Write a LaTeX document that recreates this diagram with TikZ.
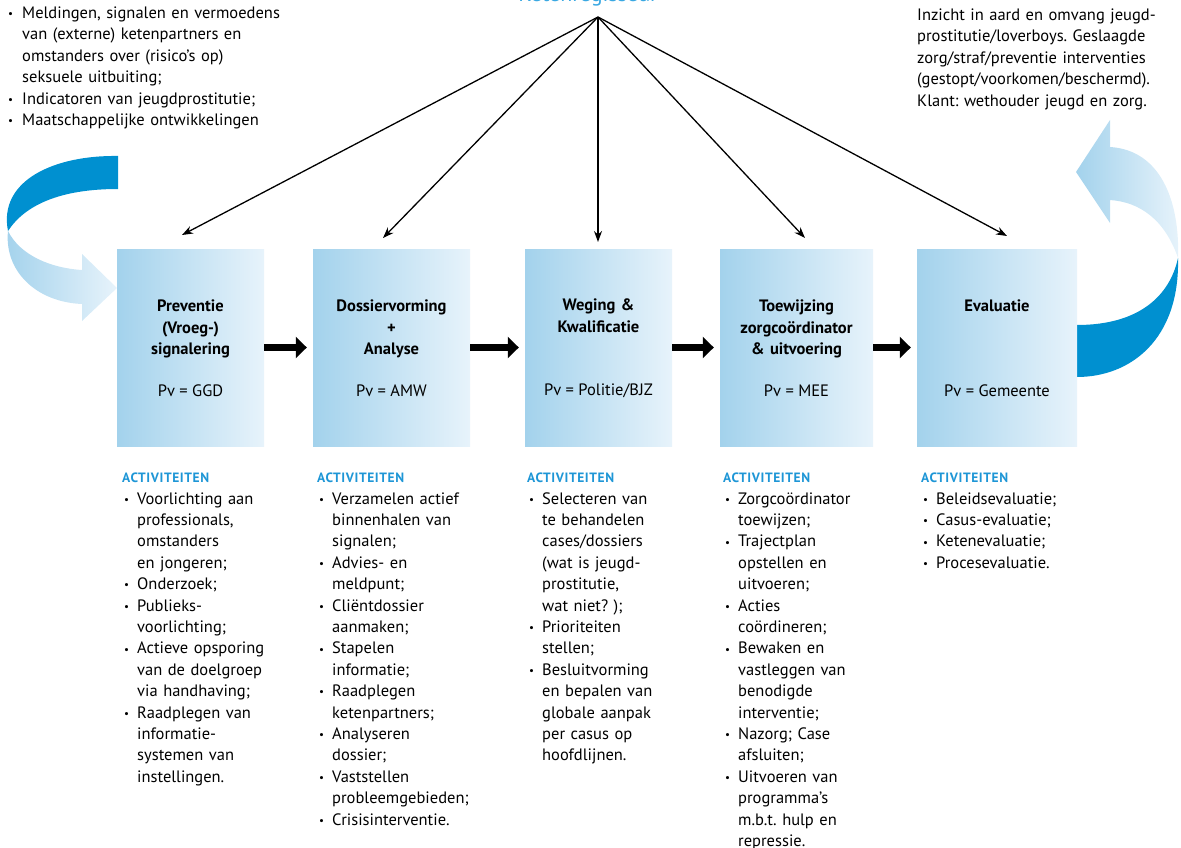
\documentclass[tikz,border=0pt]{standalone}
\usepackage{fontspec}
\setmainfont{PT Sans}
\usetikzlibrary{arrows.meta,calc}
\definecolor{rdark}{HTML}{0090D0}
\definecolor{rlight}{HTML}{A3D2EC}
\definecolor{rpale}{HTML}{E7F3FB}
\definecolor{headblue}{HTML}{1E96D6}
\definecolor{toplabelc}{HTML}{3AA8E2}
\frenchspacing
\newcommand{\bodyfont}{\fontsize{16.5}{21.4}\selectfont}
\newcommand{\smbullet}{\raisebox{0.8pt}{\fontsize{11}{11}\selectfont\textbullet}}
\newcommand{\fitm}{\hangindent=15pt\hangafter=1\noindent\makebox[15pt][l]{\hspace{2pt}\smbullet}}
\newcommand{\itm}{\par\fitm}
\newcommand{\ftopitm}{\hangindent=14pt\hangafter=1\noindent\makebox[14pt][l]{\smbullet}}
\newcommand{\topitm}{\par\ftopitm}
\tikzset{
  procbox/.style={rectangle, inner sep=0pt, left color=rlight, right color=rpale, draw=none},
  boxtitle/.style={inner sep=0pt, text width=150pt, align=center, font=\bodyfont\bfseries},
  pvtext/.style={inner sep=0pt, font=\bodyfont},
  acthead/.style={inner sep=0pt, text=headblue, font=\fontsize{13.5}{14}\selectfont\bfseries\addfontfeature{LetterSpace=4.5}},
  actlist/.style={inner sep=0pt, text width=190pt, font=\bodyfont},
  plaintext/.style={inner sep=0pt, font=\bodyfont},
  fanline/.style={line width=1.3pt, -{Stealth[length=11pt,width=8pt]}},
  flowarrow/.style={line width=7pt, -{Triangle[length=11pt,width=21pt]}, shorten >=6pt},
}
\begin{document}
\begin{tikzpicture}[x=1pt,y=-1pt]
\useasboundingbox (0,0) rectangle (1181,848);

% ribbons (behind boxes)
\shade[left color=rlight, right color=rpale]
  (8,231) .. controls (4,270) and (35,302) .. (82,304) -- (82,321) -- (117,288) -- (82,254) -- (82,270)
  .. controls (50,268) and (20,255) .. (8,231) -- cycle;
\fill[rdark]
  (8,231) .. controls (-2,180) and (55,155) .. (118,156) -- (118,189)
  .. controls (60,189) and (25,205) .. (8,231) -- cycle;
\shade[left color=rlight, right color=rpale]
  (1076,172) -- (1110,120) -- (1110,147) .. controls (1160,150) and (1180,200) .. (1178,258)
  .. controls (1165,220) and (1140,202) .. (1110,200) -- (1110,223) -- cycle;
\fill[rdark]
  (1178,258) .. controls (1180,340) and (1130,377) .. (1077,377) -- (1077,325)
  .. controls (1140,325) and (1170,295) .. (1178,258) -- cycle;

% boxes
\node[procbox, minimum width=147pt, minimum height=197pt] (b1) at (190.5,347.5) {};
\node[procbox, minimum width=157pt, minimum height=197pt] (b2) at (391.5,347.5) {};
\node[procbox, minimum width=147pt, minimum height=197pt] (b3) at (598.5,347.5) {};
\node[procbox, minimum width=153pt, minimum height=197pt] (b4) at (796.5,347.5) {};
\node[procbox, minimum width=160pt, minimum height=197pt] (b5) at (997,347.5) {};

\node[boxtitle, anchor=base] (t1) at ($(b1.north)+(0,63)$) {Preventie\\(Vroeg-)\\signalering};
\node[boxtitle, anchor=base] (t2) at ($(b2.north)+(0,63)$) {Dossiervorming\\+\\Analyse};
\node[boxtitle, anchor=base] (t3) at ($(b3.north)+(0,62)$) {Weging \&\\Kwalificatie};
\node[boxtitle, anchor=base] (t4) at ($(b4.north)+(0,63)$) {Toewijzing\\zorgcoördinator\\\& uitvoering};
\node[boxtitle, anchor=base] (t5) at ($(b5.north)+(0,63)$) {Evaluatie};

\node[pvtext, anchor=base] (p1) at ($(b1.north)+(0,148)$) {Pv = GGD};
\node[pvtext, anchor=base] (p2) at ($(b2.north)+(0,148)$) {Pv = AMW};
\node[pvtext, anchor=base] (p3) at ($(b3.north)+(0,147)$) {Pv = Politie/BJZ};
\node[pvtext, anchor=base] (p4) at ($(b4.north)+(0,148)$) {Pv = MEE};
\node[pvtext, anchor=base] (p5) at ($(b5.north)+(0,148)$) {Pv = Gemeente};

% flow arrows
\draw[flowarrow] (b1.east) -- (b2.west);
\draw[flowarrow] (b2.east) -- (b3.west);
\draw[flowarrow] (b3.east) -- (b4.west);
\draw[flowarrow] (b4.east) -- (b5.west);

% top label and fan
\node[inner sep=0pt, anchor=base, text=toplabelc, font=\fontsize{22}{24}\selectfont] (kr) at (588,2) {Ketenregisseur};
\coordinate (apex) at (598,17);
\coordinate (e1) at (182,235);
\coordinate (e2) at (383,238);
\coordinate (e3) at (598,242);
\coordinate (e4) at (805,238);
\coordinate (e5) at (1007,236);
\foreach \e in {e1,e2,e3,e4,e5} \draw[fanline] (apex) -- (\e);

% top texts
\node[plaintext, text width=300pt, anchor=base west] (inputs) at (8,18.5) {\ftopitm Meldingen, signalen en vermoedens\newline van (externe) ketenpartners en\newline omstanders over (risico’s op)\newline seksuele uitbuiting;\topitm Indicatoren van jeugdprostitutie;\topitm Maatschappelijke ontwikkelingen\par};
\node[plaintext, text width=270pt, anchor=base west] (outputs) at (917,20.5) {Inzicht in aard en omvang jeugd-\newline prostitutie/loverboys. Geslaagde\newline zorg/straf/preventie interventies\newline (gestopt/voorkomen/beschermd).\newline Klant: wethouder jeugd en zorg.};

% activities
\node[acthead, anchor=base west] (h1) at (122,482.7) {ACTIVITEITEN};
\node[acthead, anchor=base west] (h2) at (317,482.7) {ACTIVITEITEN};
\node[acthead, anchor=base west] (h3) at (527,482.7) {ACTIVITEITEN};
\node[acthead, anchor=base west] (h4) at (723,482.7) {ACTIVITEITEN};
\node[acthead, anchor=base west] (h5) at (921,482.7) {ACTIVITEITEN};

\node[actlist, anchor=base west] (l1) at (122,504) {\fitm Voorlichting aan\newline professionals,\newline omstanders\newline en jongeren;\itm Onderzoek;\itm Publieks-\newline voorlichting;\itm Actieve opsporing\newline van de doelgroep\newline via handhaving;\itm Raadplegen van\newline informatie-\newline systemen van\newline instellingen.\par};
\node[actlist, anchor=base west] (l2) at (317,504) {\fitm Verzamelen actief\newline binnenhalen van\newline signalen;\itm Advies- en\newline meldpunt;\itm Cliëntdossier\newline aanmaken;\itm Stapelen\newline informatie;\itm Raadplegen\newline ketenpartners;\itm Analyseren\newline dossier;\itm Vaststellen\newline probleemgebieden;\itm Crisisinterventie.\par};
\node[actlist, anchor=base west] (l3) at (527,504) {\fitm Selecteren van\newline te behandelen\newline cases/dossiers\newline (wat is jeugd-\newline prostitutie,\newline wat niet? );\itm Prioriteiten\newline stellen;\itm Besluitvorming\newline en bepalen van\newline globale aanpak\newline per casus op\newline hoofdlijnen.\par};
\node[actlist, anchor=base west] (l4) at (723,504) {\fitm Zorgcoördinator\newline toewijzen;\itm Trajectplan\newline opstellen en\newline uitvoeren;\itm Acties\newline coördineren;\itm Bewaken en\newline vastleggen van\newline benodigde\newline interventie;\itm Nazorg; Case\newline afsluiten;\itm Uitvoeren van\newline programma’s\newline m.b.t. hulp en\newline repressie.\par};
\node[actlist, anchor=base west] (l5) at (921,504) {\fitm Beleidsevaluatie;\itm Casus-evaluatie;\itm Ketenevaluatie;\itm Procesevaluatie.\par};
\end{tikzpicture}
\end{document}
